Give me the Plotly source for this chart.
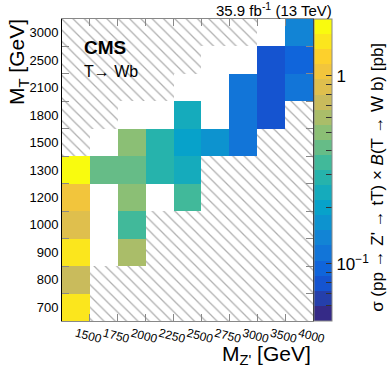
import numpy as np
import plotly.graph_objects as go

# axis categories
mzp_labels = ["1500", "1750", "2000", "2250", "2500", "2750", "3000", "3500", "4000"]
mt_labels = ["700", "800", "900", "1000", "1200", "1300", "1500", "1800", "2100", "2500", "3000"]

# cross section x BR [pb], one list per M_Z' column, rows = M_T (700 ... 3000)
xs_1500 = [1.55, 0.72, 1.55, 0.88, 1.0, 1.85, None, None, None, None, None]
xs_1750 = [None, None, None, None, None, 0.42, None, None, None, None, None]
xs_2000 = [None, None, 0.6, 0.35, 0.5, 0.42, 0.5, None, None, None, None]
xs_2250 = [None, None, None, None, None, 0.29, 0.28, None, None, None, None]
xs_2500 = [None, None, None, None, 0.35, 0.24, 0.2, 0.24, None, None, None]
xs_2750 = [None, None, None, None, None, None, 0.165, None, None, None, None]
xs_3000 = [None, None, None, None, None, None, 0.11, 0.11, 0.11, None, None]
xs_3500 = [None, None, None, None, None, None, None, 0.08, 0.08, 0.08, None]
xs_4000 = [None, None, None, None, None, None, None, None, 0.11, 0.095, 0.14]

# hatched (excluded) cells, same layout
h_1500 = [0, 0, 0, 0, 0, 0, 1, 1, 1, 1, 1]
h_1750 = [1, 1, 0, 0, 0, 0, 0, 1, 1, 1, 1]
h_2000 = [1, 1, 0, 0, 0, 0, 0, 0, 1, 1, 1]
h_2250 = [1, 1, 1, 1, 0, 0, 0, 0, 1, 1, 1]
h_2500 = [1, 1, 1, 1, 0, 0, 0, 0, 0, 1, 1]
h_2750 = [1, 1, 1, 1, 1, 1, 0, 0, 0, 0, 1]
h_3000 = [1, 1, 1, 1, 1, 1, 0, 0, 0, 0, 1]
h_3500 = [1, 1, 1, 1, 1, 1, 1, 0, 0, 0, 0]
h_4000 = [1, 1, 1, 1, 1, 1, 1, 1, 0, 0, 0]

cb_ticks = [0.05, 0.06, 0.07, 0.08, 0.09, 0.1, 0.2, 0.3, 0.4, 0.5, 0.6, 0.7, 0.8, 0.9, 1, 2]
zmin, zmax = 0.0497, 2.01

columns = [xs_1500, xs_1750, xs_2000, xs_2250, xs_2500, xs_2750, xs_3000, xs_3500, xs_4000]
hatches = [h_1500, h_1750, h_2000, h_2250, h_2500, h_2750, h_3000, h_3500, h_4000]

z = [[None if col[r] is None else np.log10(col[r]) for col in columns] for r in range(len(mt_labels))]

# ROOT kBird palette, 20 contour bands
bird = np.array([
    [0.2082, 0.1664, 0.5293], [0.0592, 0.3599, 0.8684], [0.0780, 0.5041, 0.8385],
    [0.0232, 0.6419, 0.7914], [0.1802, 0.7178, 0.6425], [0.5301, 0.7492, 0.4662],
    [0.8186, 0.7328, 0.3499], [0.9956, 0.7862, 0.1968], [0.9764, 0.9832, 0.0539],
])
stops = np.linspace(0, 1, len(bird))
nb = 20
scale = []
for k in range(nb):
    f = k / (nb - 1)
    rgb = [np.interp(f, stops, bird[:, i]) * 255 for i in range(3)]
    c = "rgb(%d,%d,%d)" % tuple(int(round(v)) for v in rgb)
    scale.append([k / nb, c])
    scale.append([(k + 1) / nb, c])

fig = go.Figure()

fig.add_trace(go.Heatmap(
    x=list(range(len(mzp_labels))),
    y=list(range(len(mt_labels))),
    z=z,
    zmin=np.log10(zmin),
    zmax=np.log10(zmax),
    colorscale=scale,
    hoverongaps=False,
    colorbar=dict(
        x=1.004, xanchor="left", xpad=0,
        y=0, yanchor="bottom", len=1, ypad=0,
        thickness=18, outlinewidth=1, outlinecolor="#888",
        ticks="inside", ticklen=6, tickcolor="#333",
        tickvals=[np.log10(v) for v in cb_ticks],
        ticktext=["10<sup>−1</sup>" if v == 0.1 else ("1" if v == 1 else " ") for v in cb_ticks],
        tickfont=dict(size=17, color="black"),
    ),
))

# hatched cells drawn as patterned bars
hx, hb = [], []
for c, col in enumerate(hatches):
    for r, flag in enumerate(col):
        if flag:
            hx.append(c)
            hb.append(r - 0.5)

fig.add_trace(go.Bar(
    x=hx, y=[1] * len(hx), base=hb, width=1,
    marker=dict(
        color="white", line=dict(width=0),
        pattern=dict(shape="\\", fgcolor="#606060", bgcolor="white", size=8, solidity=0.16),
    ),
    hoverinfo="skip", showlegend=False,
))

fig.update_layout(
    width=390, height=379,
    margin=dict(l=62, r=77, t=19, b=58, pad=0),
    plot_bgcolor="white", paper_bgcolor="white",
    font=dict(family="Liberation Sans", color="black"),
    barmode="overlay", bargap=0,
    showlegend=False,
)

fig.update_xaxes(
    range=[-0.5, len(mzp_labels) - 0.5],
    tickmode="array", tickvals=list(range(len(mzp_labels))), ticktext=mzp_labels,
    ticks="", tickangle=15, tickfont=dict(size=12),
    showline=True, linecolor="#888", linewidth=1, mirror="ticks",
    showgrid=False, zeroline=False,
    minor=dict(tickmode="array", tickvals=[i + 0.5 for i in range(len(mzp_labels) - 1)],
               ticks="inside", ticklen=7, tickcolor="#888"),
)
fig.update_yaxes(
    range=[-0.5, len(mt_labels) - 0.5],
    tickmode="array", tickvals=list(range(len(mt_labels))), ticktext=mt_labels,
    ticks="", tickfont=dict(size=13),
    showline=True, linecolor="black", linewidth=1, mirror="ticks",
    showgrid=False, zeroline=False,
    minor=dict(tickmode="array", tickvals=[i + 0.5 for i in range(len(mt_labels) - 1)],
               ticks="inside", ticklen=7, tickcolor="#888"),
)

ann = dict(xref="paper", yref="paper", showarrow=False)
fig.add_annotation(text="<b>CMS</b>", x=0.08, y=0.904, xanchor="left", yanchor="middle",
                   font=dict(size=19), **ann)
fig.add_annotation(text="T→ Wb", x=0.08, y=0.825, xanchor="left", yanchor="middle",
                   font=dict(size=16), **ann)
fig.add_annotation(text="35.9 fb<sup>-1</sup> (13 TeV)", x=1.084, y=1.03, xanchor="right",
                   yanchor="middle", font=dict(size=15), **ann)
fig.add_annotation(text="M<sub>T</sub> [GeV]", x=-0.175, y=1.007, xanchor="center", yanchor="top",
                   textangle=-90, font=dict(size=21), **ann)
fig.add_annotation(text="M<sub>Z'</sub> [GeV]", x=1.0, y=-0.113, xanchor="right", yanchor="middle",
                   font=dict(size=21), **ann)
fig.add_annotation(text="σ (pp → Z' → tT) × <i>B</i>(T → W b) [pb]", x=1.259, y=0.474,
                   xanchor="center", yanchor="middle", textangle=-90, font=dict(size=17), **ann)

# drop the default 8px body margin so the figure sits at the window origin
fig.write_html("out.html", config={"displayModeBar": False},
               post_script="document.body.style.margin='0';")
